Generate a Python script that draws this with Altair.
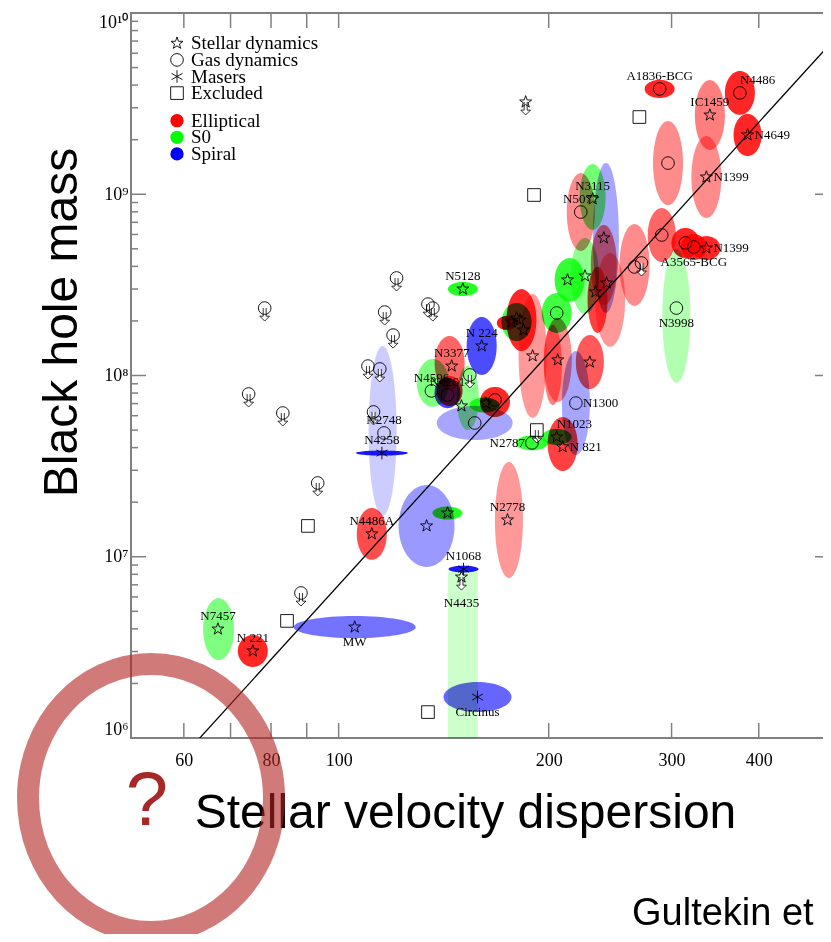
import numpy as np
import pandas as pd
import altair as alt

# ---------------- data (log10 sigma [km/s], log10 M_BH [Msun]) ----------------
# error ellipses: galaxy type, centre, half-widths (dex), shade (probability density)
ell_type = ["Elliptical", "Elliptical", "Elliptical", "Elliptical", "Elliptical", "Elliptical",
            "Elliptical", "Elliptical", "Elliptical", "Elliptical", "S0", "Elliptical",
            "Elliptical", "S0", "Spiral", "Elliptical", "Elliptical", "Elliptical", "S0", "S0",
            "S0", "Spiral", "S0", "Elliptical", "Elliptical", "S0", "Elliptical", "Elliptical",
            "Elliptical", "Elliptical", "Spiral", "Elliptical", "S0", "S0", "Elliptical",
            "Elliptical", "S0", "Elliptical", "Spiral", "S0", "Spiral", "Elliptical", "S0",
            "Spiral", "Spiral", "Elliptical", "Spiral", "S0", "Spiral", "Spiral", "Spiral",
            "S0", "Elliptical"]
ell_log_sigma = [2.460, 2.575, 2.532, 2.586, 2.472, 2.527, 2.463, 2.497, 2.509, 2.527, 2.484,
                 2.424, 2.347, 2.364, 2.383, 2.380, 2.371, 2.389, 2.353, 2.331, 2.178, 2.205,
                 2.255, 2.262, 2.241, 2.3125, 2.278, 2.314, 2.307, 2.360, 2.340, 2.321, 2.3125,
                 2.277, 2.244, 2.159, 2.135, 2.159, 2.156, 2.185, 2.195, 2.224, 2.209, 2.063,
                 2.062, 2.0475, 2.126, 2.156, 2.179, 2.199, 2.023, 1.828, 1.877]
ell_log_mass = [9.581, 9.559, 9.437, 9.327, 9.172, 9.095, 8.775, 8.731, 8.709, 8.703, 8.330,
                8.610, 8.902, 8.985, 8.759, 8.610, 8.417, 8.417, 8.549, 8.527, 8.477, 8.163,
                8.295, 8.306, 8.290, 8.345, 8.108, 8.086, 8.058, 8.074, 7.848, 7.622, 7.661,
                7.628, 7.203, 8.069, 7.959, 7.915, 7.903, 7.876, 7.738, 7.854, 7.837, 7.694,
                7.572, 7.126, 7.170, 7.241, 6.932, 6.226, 6.612, 6.601, 6.480]
ell_err_sigma = [0.0215, 0.0215, 0.0215, 0.0201, 0.0215, 0.0215, 0.0201, 0.0201, 0.0186, 0.0201,
                 0.0201, 0.0215, 0.0201, 0.0186, 0.0186, 0.0186, 0.0143, 0.0215, 0.0201, 0.0215,
                 0.0215, 0.0215, 0.0215, 0.0215, 0.0143, 0.0215, 0.0201, 0.0201, 0.0129, 0.0201,
                 0.0201, 0.0215, 0.0215, 0.0229, 0.0201, 0.0215, 0.0229, 0.0186, 0.0186, 0.0158,
                 0.0544, 0.0215, 0.0215, 0.0201, 0.0372, 0.0215, 0.0401, 0.0215, 0.0215, 0.0487,
                 0.0874, 0.0222, 0.0215]
ell_err_mass = [0.050, 0.121, 0.193, 0.116, 0.232, 0.226, 0.149, 0.083, 0.072, 0.066, 0.370,
                0.226, 0.215, 0.182, 0.414, 0.221, 0.182, 0.259, 0.210, 0.121, 0.039, 0.160,
                0.105, 0.171, 0.039, 0.110, 0.342, 0.232, 0.221, 0.149, 0.287, 0.149, 0.044,
                0.041, 0.320, 0.149, 0.132, 0.083, 0.083, 0.177, 0.094, 0.083, 0.041, 0.469,
                0.014, 0.143, 0.226, 0.036, 0.019, 0.083, 0.061, 0.171, 0.088]
ell_shade = [0.85, 0.85, 0.5, 0.85, 0.45, 0.45, 0.6, 0.85, 0.85, 0.85, 0.3, 0.45, 0.45, 0.55,
             0.35, 0.55, 0.75, 0.4, 0.45, 0.8, 0.85, 0.7, 0.7, 0.85, 0.9, 0.75, 0.4, 0.45, 0.5,
             0.65, 0.35, 0.75, 0.8, 0.8, 0.4, 0.6, 0.5, 0.8, 0.75, 0.45, 0.35, 0.85, 0.85, 0.2,
             0.9, 0.7, 0.4, 0.85, 0.9, 0.6, 0.55, 0.5, 0.85]

# N4435: upper limit, shaded band down to the bottom of the plot
band_type = ["S0"]
band_log_sigma = [2.178]
band_err_sigma = [0.0215]
band_log_mass = [6.916]
band_shade = [0.2]

# measurements: method, centre, upper limit flag
star_ls = [2.532, 2.586, 2.527, 2.527, 2.364, 2.380, 2.384, 2.368, 2.353, 2.328, 2.178, 2.205,
           2.255, 2.248, 2.265, 2.260, 2.278, 2.314, 2.360, 2.321, 2.3125, 2.242, 2.162, 2.176,
           2.211, 2.0475, 2.126, 2.156, 2.023, 1.827, 1.877, 2.176, 2.268]
star_lm = [9.437, 9.327, 9.095, 8.703, 8.974, 8.759, 8.510, 8.461, 8.549, 8.527, 8.477, 8.163,
           8.317, 8.295, 8.251, 8.306, 8.108, 8.086, 8.074, 7.606, 7.661, 7.203, 8.052, 7.832,
           7.848, 7.126, 7.170, 7.241, 6.612, 6.601, 6.480, 6.888, 9.509]
star_ul = [False] * 31 + [True, True]

gas_ls = [2.460, 2.575, 2.472, 2.463, 2.497, 2.509, 2.484, 2.424, 2.434, 2.347, 2.3125, 2.340,
          2.277, 2.133, 2.156, 2.195, 2.224, 2.065,
          2.083, 1.894, 2.066, 2.128, 2.135, 2.078, 2.042, 2.059, 1.871, 1.920, 2.050, 1.970,
          1.946, 2.188]
gas_lm = [9.581, 9.559, 9.172, 8.775, 8.731, 8.709, 8.372, 8.599, 8.621, 8.902, 8.345, 7.848,
          7.628, 7.915, 7.892, 7.738, 7.865, 7.683,
          8.538, 8.372, 8.350, 8.394, 8.372, 8.223, 8.052, 8.036, 7.898, 7.793, 7.799, 7.407,
          6.800, 8.003]
gas_ul = [False] * 8 + [True] + [False] * 9 + [True] * 14

maser_ls = [2.062, 2.179, 2.199]
maser_lm = [7.572, 6.932, 6.226]
maser_ul = [False, False, False]

excl_ls = [2.431, 2.280, 1.956, 1.926, 2.128, 2.284]
excl_lm = [9.426, 8.996, 7.170, 6.646, 6.143, 7.699]
excl_ul = [False, False, False, False, False, True]

# galaxy names
lab_text = ["A1836-BCG", "N4486", "IC1459", "N4649", "N1399", "N1399", "A3565-BCG", "N3998",
            "N5077", "N3115", "N5128", "N 224", "N3377", "N4596", "N4261", "N1300", "N1023",
            "N 821", "N2787", "N2778", "N2748", "N4258", "N4486A", "N1068", "N4435", "Circinus",
            "MW", "N7457", "N 221"]
lab_ls = [2.460, 2.575, 2.532, 2.586, 2.527, 2.527, 2.509, 2.484, 2.347, 2.364, 2.178, 2.205,
          2.162, 2.133, 2.156, 2.340, 2.3125, 2.321, 2.277, 2.242, 2.065, 2.062, 2.0475, 2.179,
          2.176, 2.199, 2.023, 1.827, 1.877]
lab_lm = [9.581, 9.559, 9.437, 9.327, 9.095, 8.703, 8.709, 8.372, 8.902, 8.974, 8.477, 8.163,
          8.052, 7.915, 7.892, 7.848, 7.661, 7.606, 7.628, 7.203, 7.683, 7.572, 7.126, 6.932,
          6.888, 6.226, 6.612, 6.601, 6.480]
lab_place = ["above", "aboveright", "above", "right", "right", "right", "below", "below",
             "above", "above", "above", "above", "above", "above", "above", "right",
             "aboveright", "right", "left", "above", "above", "above", "above", "above",
             "belowfar", "below", "below", "above", "above"]

# M-sigma fit (Gultekin et al. 2009)
FIT_NORM, FIT_SLOPE, FIT_PIVOT = 8.12, 4.24, 200.0

X_DOMAIN = [50.4, 506.0]
Y_DOMAIN = [1e6, 1e10]
X_TICKS = [60, 70, 80, 90, 100, 200, 300, 400]
X_LABELS = [60, 80, 100, 200, 300, 400]
Y_MAJOR = [1e6, 1e7, 1e8, 1e9, 1e10]
Y_MINOR = [k * 10.0 ** e for e in range(6, 10) for k in range(2, 10)]

METHODS = ["Stellar dynamics", "Gas dynamics", "Masers", "Excluded"]
TYPES = ["Elliptical", "S0", "Spiral"]

# ---------------- build tables ----------------
W, H = 699, 725
theta = np.linspace(0, 2 * np.pi, 64, endpoint=False)
rows = []
for i, (t, ls, lm, es, em, sh) in enumerate(zip(ell_type, ell_log_sigma, ell_log_mass,
                                                  ell_err_sigma, ell_err_mass, ell_shade)):
    for k, th in enumerate(theta):
        rows.append({"eid": f"e{i:03d}", "k": k, "type": t, "shade": sh,
                     "sigma": 10 ** (ls + es * np.cos(th)),
                     "mass": 10 ** (lm + em * np.sin(th))})
ell_df = pd.DataFrame(rows)

band_df = pd.DataFrame({
    "type": band_type,
    "lo": [10 ** (a - b) for a, b in zip(band_log_sigma, band_err_sigma)],
    "hi": [10 ** (a + b) for a, b in zip(band_log_sigma, band_err_sigma)],
    "top": [10 ** m for m in band_log_mass],
    "bottom": [Y_DOMAIN[0]] * len(band_type),
    "shade": band_shade,
})

sym_df = pd.concat([
    pd.DataFrame({"method": METHODS[0], "ls": star_ls, "lm": star_lm, "ul": star_ul}),
    pd.DataFrame({"method": METHODS[1], "ls": gas_ls, "lm": gas_lm, "ul": gas_ul}),
    pd.DataFrame({"method": METHODS[2], "ls": maser_ls, "lm": maser_lm, "ul": maser_ul}),
    pd.DataFrame({"method": METHODS[3], "ls": excl_ls, "lm": excl_lm, "ul": excl_ul}),
], ignore_index=True)
sym_df["sigma"] = 10 ** sym_df["ls"]
sym_df["mass"] = 10 ** sym_df["lm"]
ul_df = sym_df[sym_df["ul"]].copy()

lab_df = pd.DataFrame({"text": lab_text, "sigma": [10 ** v for v in lab_ls],
                       "mass": [10 ** v for v in lab_lm], "place": lab_place})

fit_df = pd.DataFrame({"sigma": X_DOMAIN})
fit_df["mass"] = 10 ** (FIT_NORM + FIT_SLOPE * np.log10(fit_df["sigma"] / FIT_PIVOT))

xt_df = pd.DataFrame({"v": X_TICKS})
ymaj_df = pd.DataFrame({"v": Y_MAJOR})
ymin_df = pd.DataFrame({"v": Y_MINOR})

# ---------------- shapes ----------------
STAR = ("M0,-1L0.235,-0.324L0.951,-0.309L0.38,0.124L0.588,0.809L0,0.4L-0.588,0.809"
        "L-0.38,0.124L-0.951,-0.309L-0.235,-0.324Z")
AST = "M0,-1L0,1M-0.866,-0.5L0.866,0.5M-0.866,0.5L0.866,-0.5"
ARROW = "M-0.23,-1L-0.23,0.25L-0.75,0.25L0,1L0.75,0.25L0.23,0.25L0.23,-1"
RING = ("M0.918,0C0.918,0.552,0.507,1,0,1C-0.507,1,-0.918,0.552,-0.918,0"
        "C-0.918,-0.552,-0.507,-1,0,-1C0.507,-1,0.918,-0.552,0.918,0Z")
SHAPES = [STAR, "circle", AST, "square"]
COLORS = ["#ff0000", "#00ff00", "#0000ff"]

SERIF = "Liberation Serif"
SANS = "Liberation Sans"
GREY = "#808080"

xs = alt.Scale(type="log", domain=X_DOMAIN, nice=False)
ys = alt.Scale(type="log", domain=Y_DOMAIN, nice=False)

x_axis = alt.Axis(values=X_LABELS, ticks=False, tickSize=0, domain=False, grid=False,
                  labelFont=SERIF, labelFontSize=18, labelColor="black",
                  labelBaseline="alphabetic", labelPadding=27, labelFlush=False,
                  labelOverlap=False, title="Stellar velocity dispersion", titleFont=SANS,
                  titleFontSize=48, titleFontWeight="normal", titleColor="black",
                  titleX=334, titleY=89, titleAlign="center", titleBaseline="alphabetic")
y_axis = alt.Axis(values=Y_MAJOR, ticks=False, tickSize=0, domain=False, grid=False,
                  labelExpr=("round(log(datum.value)/LN10) == 10 ? '10\u00b9\u2070' : "
                             "round(log(datum.value)/LN10) == 9 ? '10\u2079' : "
                             "round(log(datum.value)/LN10) == 8 ? '10\u2078' : "
                             "round(log(datum.value)/LN10) == 7 ? '10\u2077' : '10\u2076'"),
                  labelFont=SERIF, labelFontSize=18, labelColor="black", labelAlign="right",
                  labelPadding=3, labelFlush=True, labelFlushOffset=0, labelOverlap=False,
                  title="Black hole mass", titleFont=SANS, titleFontSize=48,
                  titleFontWeight="normal", titleColor="black", titleAngle=270, titleX=-55,
                  titleY=309, titleAlign="center", titleBaseline="alphabetic")


def X(f):
    return alt.X(f, type="quantitative", scale=xs, axis=x_axis)


def Y(f):
    return alt.Y(f, type="quantitative", scale=ys, axis=y_axis)


color_enc = alt.Color("type:N", scale=alt.Scale(domain=TYPES, range=COLORS), legend=None)

# no clipping here: a clip-path would isolate each ellipse and stop the multiply blending
ellipses = alt.Chart(ell_df).mark_line(filled=True, interpolate="linear-closed",
                                       blend="multiply", strokeWidth=0).encode(
    x=X("sigma"), y=Y("mass"), detail="eid:N", order="k:Q", color=color_enc,
    fillOpacity=alt.FillOpacity("shade:Q", scale=None))

band = alt.Chart(band_df).mark_rect(blend="multiply").encode(
    x=X("lo"), x2="hi", y=Y("top"), y2="bottom", color=color_enc,
    fillOpacity=alt.FillOpacity("shade:Q", scale=None))

fit = alt.Chart(fit_df).mark_line(clip=True, color="black", strokeWidth=1.3).encode(
    x=X("sigma"), y=Y("mass"))

tick_style = dict(color=GREY, strokeWidth=1.5)
xt_bottom = alt.Chart(xt_df).mark_rule(**tick_style).encode(x=X("v"), y=alt.value(H), y2=alt.value(H - 15))
xt_top = alt.Chart(xt_df).mark_rule(**tick_style).encode(x=X("v"), y=alt.value(0), y2=alt.value(15))
yt_lmaj = alt.Chart(ymaj_df).mark_rule(**tick_style).encode(y=Y("v"), x=alt.value(0), x2=alt.value(15))
yt_rmaj = alt.Chart(ymaj_df).mark_rule(**tick_style).encode(y=Y("v"), x=alt.value(W), x2=alt.value(W - 15))
yt_lmin = alt.Chart(ymin_df).mark_rule(**tick_style).encode(y=Y("v"), x=alt.value(0), x2=alt.value(7))
yt_rmin = alt.Chart(ymin_df).mark_rule(**tick_style).encode(y=Y("v"), x=alt.value(W), x2=alt.value(W - 7))

arrows = alt.Chart(ul_df).mark_point(shape=ARROW, size=169, fill="white", stroke="black",
                                     fillOpacity=1, strokeWidth=0.8, yOffset=6.5, opacity=1).encode(
    x=X("sigma"), y=Y("mass"))

symbols = alt.Chart(sym_df).mark_point(filled=False, color="black", strokeWidth=0.9, size=160,
                                       opacity=1).encode(
    x=X("sigma"), y=Y("mass"),
    shape=alt.Shape("method:N", scale=alt.Scale(domain=METHODS, range=SHAPES), legend=None))

placements = {
    "above": dict(align="center", dx=0, dy=-13),
    "aboveright": dict(align="left", dx=0, dy=-13),
    "below": dict(align="center", dx=0, dy=15),
    "belowfar": dict(align="center", dx=0, dy=26),
    "right": dict(align="left", dx=7, dy=0),
    "left": dict(align="right", dx=-7, dy=0),
}
label_layers = []
for name, p in placements.items():
    label_layers.append(
        alt.Chart(lab_df).transform_filter(alt.datum.place == name).mark_text(
            font=SERIF, fontSize=13, color="black", baseline="middle", **p).encode(
            x=X("sigma"), y=Y("mass"), text="text:N"))

# ---------------- legend (inside the plot, top-left) ----------------
one = pd.DataFrame({"a": [0]})
LEG_SYM_X, LEG_TXT_X, LEG_STEP = 46, 60, 16.6
LEG_M_Y0, LEG_T_Y0 = 30.3, 107.7
legend_layers = []
for i, (m, shp) in enumerate(zip(METHODS, SHAPES)):
    yy = LEG_M_Y0 + LEG_STEP * i
    legend_layers.append(alt.Chart(one).mark_point(shape=shp, filled=False, color="black",
                                                   strokeWidth=0.9, size=160, opacity=1).encode(
        x=alt.value(LEG_SYM_X), y=alt.value(yy)))
    legend_layers.append(alt.Chart(one).mark_text(text=m, font=SERIF, fontSize=19, color="black",
                                                  align="left", baseline="middle").encode(
        x=alt.value(LEG_TXT_X), y=alt.value(yy)))
for i, (t, col) in enumerate(zip(TYPES, COLORS)):
    yy = LEG_T_Y0 + LEG_STEP * i
    legend_layers.append(alt.Chart(one).mark_point(shape="circle", filled=True, color=col,
                                                   size=177, opacity=1, strokeWidth=0).encode(
        x=alt.value(LEG_SYM_X), y=alt.value(yy)))
    legend_layers.append(alt.Chart(one).mark_text(text=t, font=SERIF, fontSize=19, color="black",
                                                  align="left", baseline="middle").encode(
        x=alt.value(LEG_TXT_X), y=alt.value(yy)))

# ---------------- annotations outside the plot ----------------
question = alt.Chart(one).mark_text(text="?", font=SANS, fontSize=76, color="#a8282a",
                                    align="center", baseline="alphabetic").encode(
    x=alt.value(16), y=alt.value(812))
credit = alt.Chart(one).mark_text(text="Gultekin et", font=SANS, fontSize=38,
                                  color="black", align="left", baseline="alphabetic").encode(
    x=alt.value(501), y=alt.value(912))
ring = alt.Chart(one).mark_point(shape=RING, size=71824, filled=False, stroke="#b22222",
                                 strokeWidth=22, strokeOpacity=0.6, opacity=1).encode(
    x=alt.value(20), y=alt.value(785))

chart = alt.layer(
    ellipses, band, fit, xt_bottom, xt_top, yt_lmaj, yt_rmaj, yt_lmin, yt_rmin,
    arrows, symbols, *label_layers, *legend_layers, question, credit, ring
).properties(
    width=W, height=H, background="white",
    autosize=alt.AutoSizeParams(type="none"),
    padding={"left": 123, "top": 5, "right": -7, "bottom": 196},
).configure_view(stroke=GREY, strokeWidth=2)

chart.save("out.html", embed_options={"renderer": "svg", "actions": False})
